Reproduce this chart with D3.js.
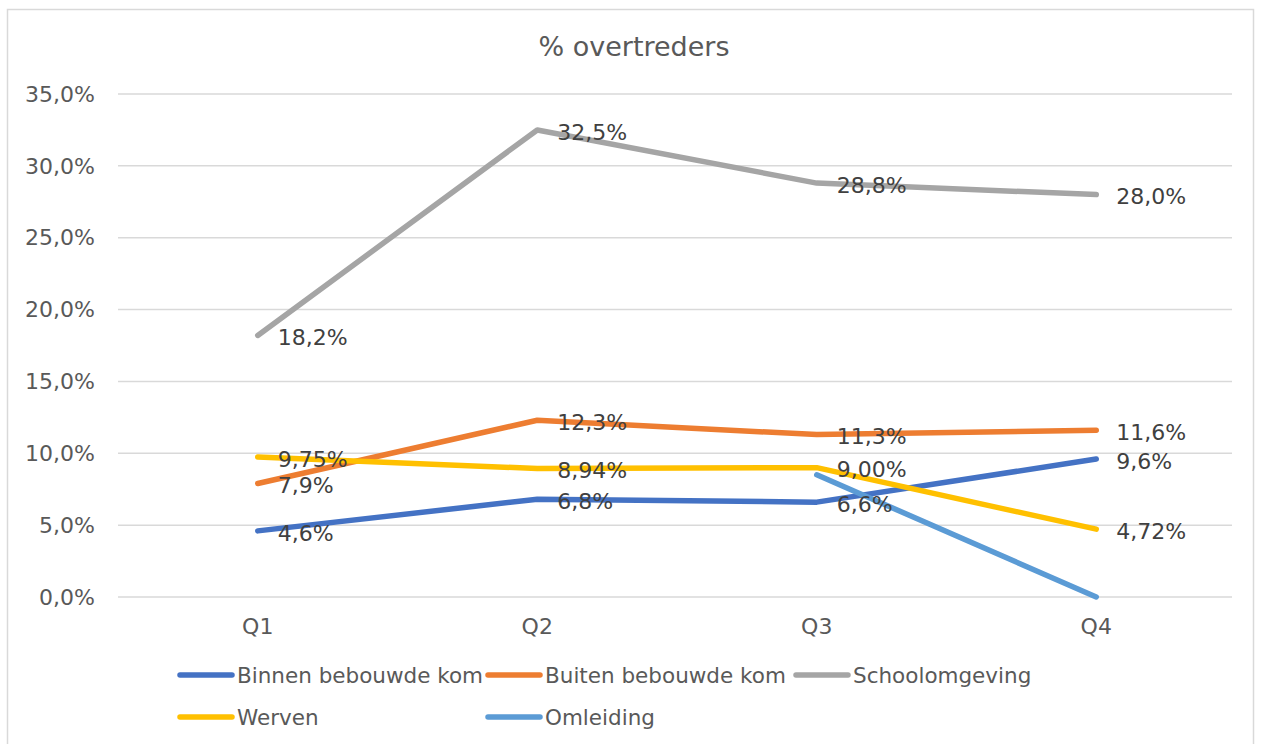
<!DOCTYPE html>
<html><head><meta charset="utf-8">
<script src="https://cdn.jsdelivr.net/npm/d3@7"></script>
<style>body{margin:0;background:#fff}svg{display:block}</style>
</head><body>
<svg id="c" width="1261" height="744"></svg>
<script>
const categories = ["Q1","Q2","Q3","Q4"];
const seriesNames = ["Binnen bebouwde kom","Buiten bebouwde kom","Schoolomgeving","Werven","Omleiding"];
const binnen = [4.6, 6.8, 6.6, 9.6];
const buiten = [7.9, 12.3, 11.3, 11.6];
const school = [18.2, 32.5, 28.8, 28.0];
const werven = [9.75, 8.94, 9.00, 4.72];
const omleiding = [null, null, 8.5, 0.0];
const labelDecimals = [1, 1, 1, 2, null];
const yTicks = [0, 5, 10, 15, 20, 25, 30, 35];
const colors = ["#4472C4","#ED7D31","#A5A5A5","#FFC000","#5B9BD5"];
const allSeries = [binnen, buiten, school, werven, omleiding];

const svg = d3.select("#c");
const font = "DejaVu Sans, Verdana, sans-serif";
svg.append("rect").attr("x",7.5).attr("y",9.5).attr("width",1246).attr("height",740)
  .attr("fill","#fff").attr("stroke","#d9d9d9").attr("stroke-width",1.5);

const x = d3.scaleBand().domain(categories).range([118, 1236]);
const y = d3.scaleLinear().domain([0, 35]).range([597, 94]);
const fmt = (v, d) => v.toFixed(d).replace(".", ",") + "%";

svg.append("text").attr("x", 634).attr("y", 56).attr("text-anchor","middle")
  .attr("font-family", font).attr("font-size", 27).attr("fill","#595959").text("% overtreders");

const gy = svg.append("g");
gy.selectAll("line").data(yTicks).join("line")
  .attr("x1",118).attr("x2",1232).attr("y1",d=>y(d)).attr("y2",d=>y(d))
  .attr("stroke","#d9d9d9").attr("stroke-width",1.5);
gy.selectAll("text").data(yTicks).join("text")
  .attr("x",95).attr("y",d=>y(d)).attr("dy","0.35em").attr("text-anchor","end")
  .attr("font-family",font).attr("font-size",22).attr("fill","#595959")
  .text(d=>fmt(d,1));

svg.append("g").selectAll("text").data(categories).join("text")
  .attr("x",d=>x(d)+x.bandwidth()/2).attr("y",626).attr("dy","0.35em").attr("text-anchor","middle")
  .attr("font-family",font).attr("font-size",22).attr("fill","#595959").text(d=>d);

const line = d3.line().defined(d=>d.v!==null).x(d=>x(d.c)+x.bandwidth()/2).y(d=>y(d.v));
allSeries.forEach((s,i)=>{
  const pts = s.map((v,j)=>({c:categories[j], v}));
  svg.append("path").datum(pts).attr("d", line).attr("fill","none")
    .attr("stroke",colors[i]).attr("stroke-width",5.5).attr("stroke-linecap","round").attr("stroke-linejoin","round");
});
allSeries.forEach((s,i)=>{
  if (labelDecimals[i]===null) return;
  const pts = s.map((v,j)=>({c:categories[j], v})).filter(d=>d.v!==null);
  svg.append("g").selectAll("text").data(pts).join("text")
    .attr("x",d=>x(d.c)+x.bandwidth()/2+20).attr("y",d=>y(d.v)+2).attr("dy","0.35em")
    .attr("font-family",font).attr("font-size",22).attr("fill","#404040")
    .text(d=>fmt(d.v,labelDecimals[i]));
});

const legendPos = [[180,675],[488,675],[796,675],[180,717],[488,717]];
seriesNames.forEach((n,i)=>{
  const [lx,ly] = legendPos[i];
  svg.append("line").attr("x1",lx).attr("x2",lx+52).attr("y1",ly).attr("y2",ly)
    .attr("stroke",colors[i]).attr("stroke-width",5.5).attr("stroke-linecap","round");
  svg.append("text").attr("x",lx+57).attr("y",ly).attr("dy","0.35em")
    .attr("font-family",font).attr("font-size",21.5).attr("fill","#595959").text(n);
});
</script>
</body></html>
